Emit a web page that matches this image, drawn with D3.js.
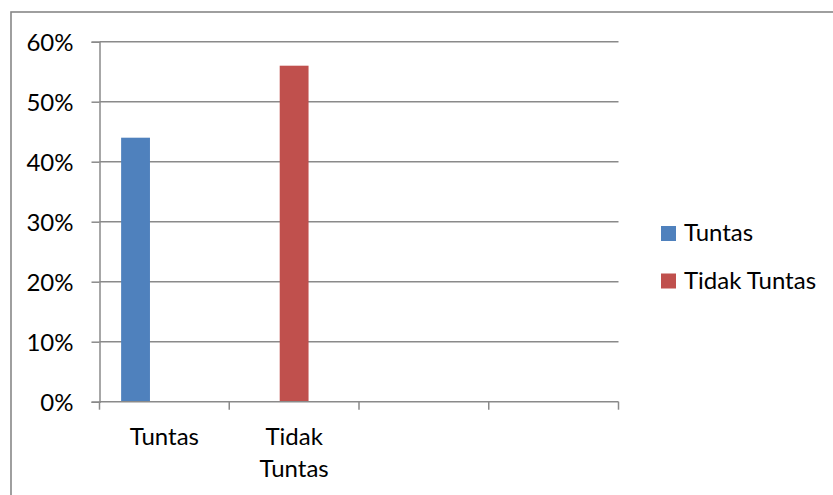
<!DOCTYPE html>
<html><head><meta charset="utf-8">
<script src="https://cdn.jsdelivr.net/npm/d3@7"></script>
<style>body{margin:0;background:#fff}svg{display:block}</style>
</head><body><svg id="c" width="833" height="495"></svg>
<script>
const categories = ["Tuntas", "Tidak Tuntas", "", ""];
const seriesNames = ["Tuntas", "Tidak Tuntas"];
const seriesColors = ["#4F81BD", "#C0504D"];
const tuntasValues = [0.44, null, null, null];
const tidakTuntasValues = [null, 0.56, null, null];
const yTicks = [0, 0.1, 0.2, 0.3, 0.4, 0.5, 0.6];
const seriesValues = [tuntasValues, tidakTuntasValues];

(function () {
const svg = d3.select("#c");
const font = "Lato, 'Open Sans', sans-serif";
const fs = 24;
const gridColor = "#8a8a8a";

// outer border
svg.append("rect").attr("x", 11).attr("y", 12).attr("width", 840).attr("height", 500)
  .attr("fill", "none").attr("stroke", "#878787").attr("stroke-width", 1.6);

const pl = 99.5, pr = 618.5, pt = 41.7, pb = 401.7;
const x0 = d3.scaleBand().domain(d3.range(categories.length)).range([pl, pr]);
const x1 = d3.scaleBand().domain([0, 1, 2]).range([0, x0.bandwidth()]).paddingOuter(0.75);
const y = d3.scaleLinear().domain([0, 0.6]).range([pb, pt]);

// gridlines
svg.append("g").selectAll("line").data(yTicks.filter(t => t > 0)).join("line")
  .attr("x1", pl).attr("x2", pr).attr("y1", d => y(d)).attr("y2", d => y(d))
  .attr("stroke", gridColor).attr("stroke-width", 1.5);

// y axis
const yAxis = svg.append("g").attr("transform", `translate(${pl},0)`)
  .call(d3.axisLeft(y).tickValues(yTicks).tickFormat(d3.format(".0%")).tickSize(8).tickPadding(18));
yAxis.select(".domain").attr("stroke", gridColor).attr("stroke-width", 1.5);
yAxis.selectAll(".tick line").attr("stroke", gridColor).attr("stroke-width", 1.5);
yAxis.selectAll("text").attr("font-family", font).attr("font-size", fs).attr("fill", "#000")
  .attr("dy", "0.36em");

// bars
seriesValues.forEach((vals, si) => {
  svg.append("g").selectAll("rect").data(vals.map((v, i) => ({v, i})).filter(d => d.v != null))
    .join("rect")
    .attr("x", d => x0(d.i) + x1(si))
    .attr("width", x1.bandwidth())
    .attr("y", d => y(d.v))
    .attr("height", d => y(0) - y(d.v))
    .attr("fill", seriesColors[si]);
});

// x axis
const xAxisG = svg.append("g").attr("transform", `translate(0,${pb})`);
xAxisG.append("line").attr("x1", pl).attr("x2", pr).attr("stroke", gridColor).attr("stroke-width", 1.5);
const bounds = d3.range(categories.length + 1).map(i => pl + i * x0.step());
xAxisG.selectAll("line.t").data(bounds).join("line").attr("class", "t")
  .attr("x1", d => d).attr("x2", d => d).attr("y1", 0).attr("y2", 8)
  .attr("stroke", gridColor).attr("stroke-width", 1.5);
categories.forEach((c, i) => {
  if (!c) return;
  const words = c.split(" ");
  const t = svg.append("text").attr("font-family", font).attr("font-size", fs)
    .attr("text-anchor", "middle").attr("fill", "#000");
  words.forEach((w, k) => {
    t.append("tspan").attr("x", x0(i) + x0.bandwidth() / 2).attr("y", 445 + k * 32).text(w);
  });
});

// legend
const lg = svg.append("g");
seriesNames.forEach((n, i) => {
  const yy = 226 + i * 47.5;
  lg.append("rect").attr("x", 661).attr("y", yy).attr("width", 15).attr("height", 15).attr("fill", seriesColors[i]);
  lg.append("text").attr("x", 684).attr("y", yy + 15).attr("font-family", font).attr("font-size", fs)
    .attr("fill", "#000").text(n);
});
})();
</script></body></html>
